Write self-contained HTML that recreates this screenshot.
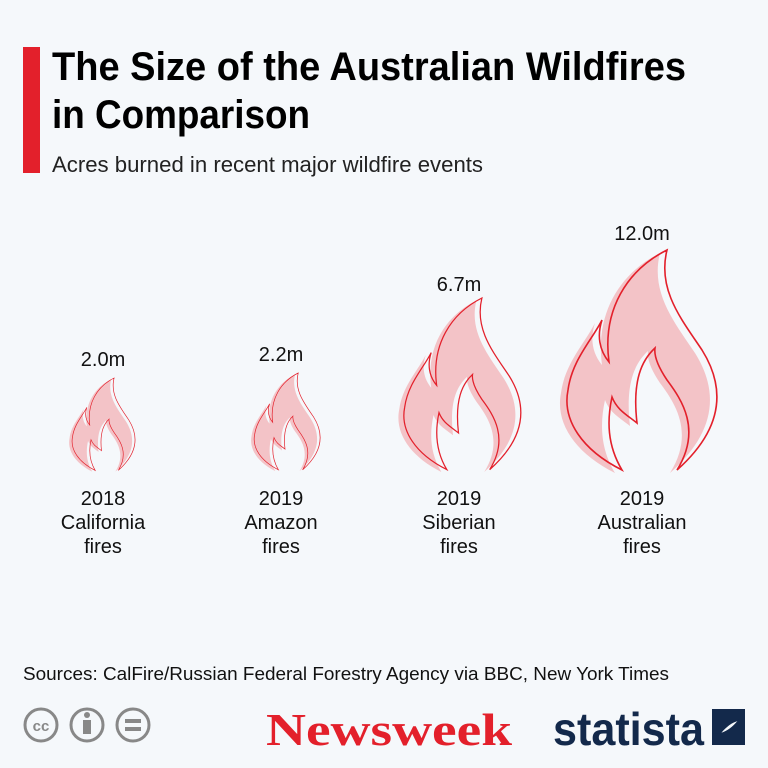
<!DOCTYPE html>
<html><head><meta charset="utf-8"><style>
html,body{margin:0;padding:0;background:#f5f8fb;}
svg{display:block}
</style></head><body>
<svg width="768" height="768" viewBox="0 0 768 768" xmlns="http://www.w3.org/2000/svg" font-family="Liberation Sans, sans-serif">
<defs>
<path id="fl" d="M105,0 C95,40 120,70 140,100 C165,140 160,180 115,220 C140,180 120,150 105,130 C95,115 92,105 93,98 C80,110 70,130 75,173 C65,165 55,160 50,147 C45,170 45,195 60,220 C20,200 0,170 6,140 C10,110 30,90 40,70 C35,85 37,100 47,112 C40,60 65,20 105,0 Z"/>
<g id="flame">
<use href="#fl" transform="translate(-7,3)" fill="#f3c3c7"/>
<use href="#fl" fill="none" stroke="#e3202b" stroke-width="1.6" vector-effect="non-scaling-stroke"/>
</g>
</defs>
<rect width="768" height="768" fill="#f5f8fb"/>
<rect x="23" y="47" width="17" height="126" fill="#e3202b"/>
<text x="52" y="80" font-size="40" font-weight="bold" textLength="634" lengthAdjust="spacingAndGlyphs">The Size of the Australian Wildfires</text>
<text x="52" y="128" font-size="40" font-weight="bold" textLength="258" lengthAdjust="spacingAndGlyphs">in Comparison</text>
<text x="52" y="172" font-size="22" fill="#222" textLength="431" lengthAdjust="spacingAndGlyphs">Acres burned in recent major wildfire events</text>

<g transform="translate(70,378) scale(0.42)"><use href="#flame"/></g>
<g transform="translate(252,373) scale(0.44)"><use href="#flame"/></g>
<g transform="translate(400,298) scale(0.78)"><use href="#flame"/></g>
<g transform="translate(562,250) scale(1)"><use href="#flame"/></g>

<g font-size="20" text-anchor="middle" fill="#111">
<text x="103" y="366">2.0m</text>
<text x="281" y="361">2.2m</text>
<text x="459" y="291">6.7m</text>
<text x="642" y="240">12.0m</text>
<text x="103" y="505">2018</text><text x="103" y="529">California</text><text x="103" y="553">fires</text>
<text x="281" y="505">2019</text><text x="281" y="529">Amazon</text><text x="281" y="553">fires</text>
<text x="459" y="505">2019</text><text x="459" y="529">Siberian</text><text x="459" y="553">fires</text>
<text x="642" y="505">2019</text><text x="642" y="529">Australian</text><text x="642" y="553">fires</text>
</g>
<text x="23" y="680" font-size="18" fill="#111" textLength="646" lengthAdjust="spacingAndGlyphs">Sources: CalFire/Russian Federal Forestry Agency via BBC, New York Times</text>

<g fill="none" stroke="#888" stroke-width="3">
<circle cx="41" cy="725" r="16"/><circle cx="87" cy="725" r="16"/><circle cx="133" cy="725" r="16"/>
</g>
<text x="41" y="731" font-size="15" font-weight="bold" fill="#888" text-anchor="middle">cc</text>
<circle cx="87" cy="715" r="3" fill="#888"/><rect x="83" y="720" width="8" height="14" fill="#888"/>
<rect x="125" y="719" width="16" height="4" fill="#888"/><rect x="125" y="727" width="16" height="4" fill="#888"/>

<text x="266" y="745" font-family="Liberation Serif, serif" font-size="46" font-weight="bold" fill="#e3202b" textLength="246" lengthAdjust="spacingAndGlyphs">Newsweek</text>
<text x="553" y="745" font-size="46" font-weight="bold" fill="#13294b" textLength="151" lengthAdjust="spacingAndGlyphs">statista</text>
<path d="M712,709 H745 V720 C728,720 720,735 712,745 Z" fill="#13294b"/>
<path d="M745,712 V745 H712 V734 C730,734 736,722 745,712 Z" fill="#13294b"/>
</svg>
</body></html>
